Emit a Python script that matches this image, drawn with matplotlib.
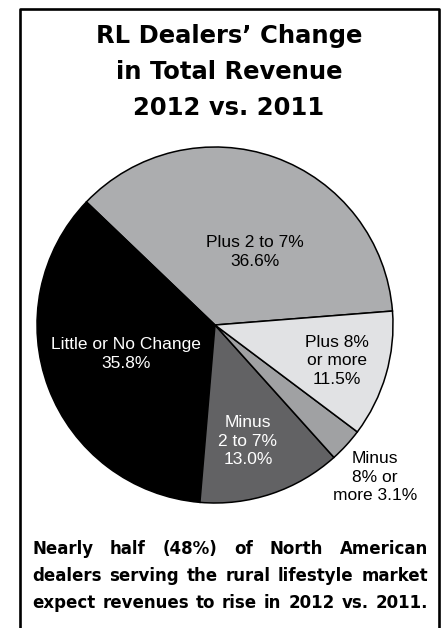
import matplotlib.pyplot as plt
from matplotlib.lines import Line2D

W, H = 443, 628

# data (counter-clockwise from the right)
categories = ["Plus 2 to 7%", "Little or No Change", "Minus\n2 to 7%",
              "Minus\n8% or\nmore", "Plus 8%\nor more"]
shares = [36.6, 35.8, 13.0, 3.1, 11.5]
value_sep = ["\n", "\n", "\n", " ", "\n"]
colors = ["#acadaf", "#000000", "#626264", "#a0a1a3", "#e1e2e4"]
text_colors = ["black", "white", "white", "black", "black"]
label_pos = [(0.225, 0.41), (-0.50, -0.163), (0.185, -0.652),
             (0.90, -0.854), (0.685, -0.202)]

title_lines = ["RL Dealers\u2019 Change", "in Total Revenue", "2012 vs. 2011"]
note_lines = ["Nearly half (48%) of North American",
              "dealers serving the rural lifestyle market",
              "expect revenues to rise in 2012 vs. 2011."]

fig = plt.figure(figsize=(W / 100, H / 100), dpi=100)

# frame box (open at the bottom)
fx = lambda px: px / W
fy = lambda py: 1 - py / H
fig.add_artist(Line2D([fx(19.5), fx(19.5), fx(438.5), fx(438.5)],
                      [fy(640), fy(9), fy(9), fy(640)],
                      transform=fig.transFigure, color="black", lw=1.9))

# title
for i, line in enumerate(title_lines):
    fig.text(fx(229), fy(36 + i * 36), line, ha="center", va="center",
             fontsize=17.5, fontweight="bold", family="DejaVu Sans")

# pie
cx, cy, r = 215, 325, 178
ax = fig.add_axes([fx(cx - r), fy(cy + r), 2 * r / W, 2 * r / H])
wedges, _ = ax.pie(shares, colors=colors, startangle=4.5, counterclock=True,
                   wedgeprops=dict(edgecolor="black", linewidth=1.1))
ax.set_xlim(-1, 1)
ax.set_ylim(-1, 1)
ax.set_aspect("equal")
ax.axis("off")

for cat, val, sep, tc, (lx, ly) in zip(categories, shares, value_sep,
                                       text_colors, label_pos):
    ax.text(lx, ly, f"{cat}{sep}{val:.1f}%", ha="center", va="center",
            color=tc, fontsize=12.5, family="Liberation Sans",
            linespacing=1.3, clip_on=False)

# justified note at the bottom
renderer = fig.canvas.get_renderer()
x0, x1 = 32, 428
for i, line in enumerate(note_lines):
    words = line.split()
    texts = [fig.text(0, fy(549 + i * 27), w, ha="left", va="center",
                      fontsize=12, fontweight="bold", family="DejaVu Sans")
             for w in words]
    widths = [t.get_window_extent(renderer).width for t in texts]
    gap = (x1 - x0 - sum(widths)) / (len(words) - 1)
    x = x0
    for t, w in zip(texts, widths):
        t.set_x(fx(x))
        x += w + gap

fig.savefig("out.png", dpi=100)
